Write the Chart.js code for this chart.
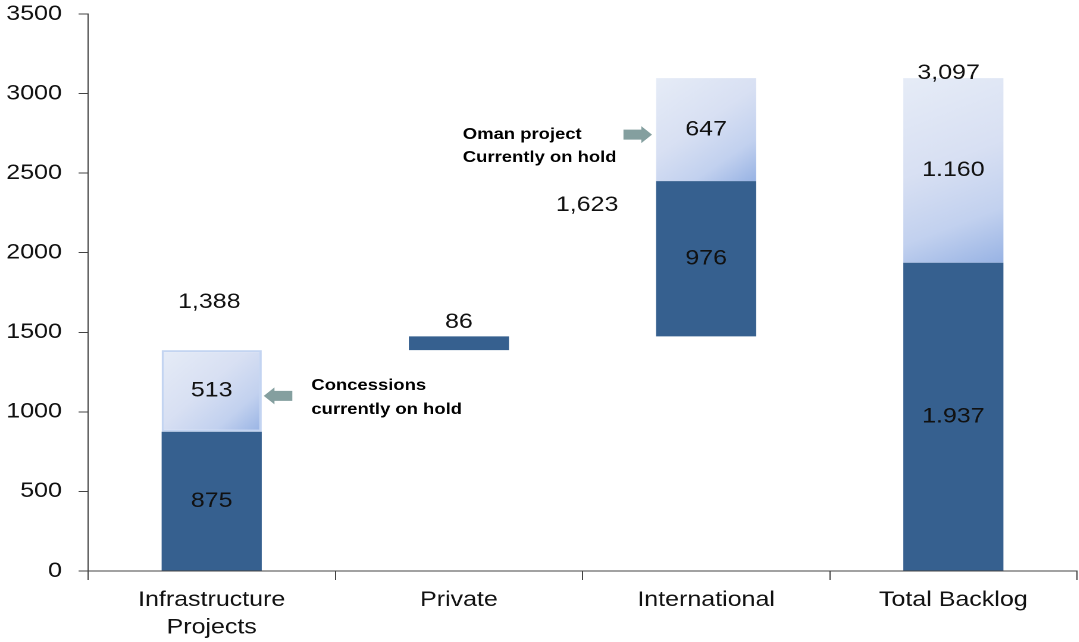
<!DOCTYPE html>
<html><head><meta charset="utf-8">
<script src="https://cdn.jsdelivr.net/npm/chart.js@4.4.1/dist/chart.umd.min.js"></script>
<style>
html,body{margin:0;padding:0;background:#fff;overflow:hidden;}
#wrap{width:907px;height:642px;transform:scaleX(1.19);transform-origin:0 0;}
</style></head><body>
<div id="wrap"><canvas id="c" width="907" height="642"></canvas></div>
<script>
// ---- data ----
const categories = [['Infrastructure', 'Projects'], 'Private', 'International', 'Total Backlog'];
const activeValues = [875, 86, 976, 1937];
const onHoldValues = [513, 0, 647, 1160];
const isTotal = [false, false, false, true];
const activeLabels = ['875', '', '976', '1.937'];
const onHoldLabels = ['513', '', '647', '1.160'];
const sumLabels = ['1,388', '86', '1,623', '3,097'];
const yTickValues = [0, 500, 1000, 1500, 2000, 2500, 3000, 3500];
const notes = [
  { category: 0, lines: ['Concessions', 'currently on hold'] },
  { category: 2, lines: ['Oman project', 'Currently on hold'] }
];

// ---- waterfall ranges built from the data ----
const darkRanges = [], lightRanges = [];
let running = 0;
categories.forEach((c, i) => {
  const base = isTotal[i] ? 0 : running;
  darkRanges.push([base, base + activeValues[i]]);
  lightRanges.push(onHoldValues[i] > 0 ? [base + activeValues[i], base + activeValues[i] + onHoldValues[i]] : null);
  if (!isTotal[i]) running += activeValues[i] + onHoldValues[i];
});

// ---- style ----
const BAR_PCT = 0.405;
const DARK = '#36608f';
const FONT = '"Liberation Sans", Arial, sans-serif';
const onHoldBorderWidths = [2, 0, 0, 0];
// placement of the sum labels relative to the top of each stack (logical px)
const sumPlacement = [
  { dx: -2, dy: -48 },
  { dx: 0, dy: -14 },
  { dx: -100, dy: 127 },
  { dx: -4, dy: -5 }
];
const noteStyle = [
  { side: 'right', dy: 5, textDx: 16, lineDy: [-10, 14] },
  { side: 'left', dy: 5, textDx: -159, lineDy: [0, 23] }
];

function lightFill(ctx) {
  const chart = ctx.chart;
  const xs = chart.scales.x, ys = chart.scales.y;
  const raw = ctx.raw;
  if (!xs || !ys || !raw || !chart.chartArea) return '#d6dff2';
  const cx = xs.getPixelForValue(ctx.dataIndex);
  const half = (xs.getPixelForValue(1) - xs.getPixelForValue(0)) * BAR_PCT / 2;
  const top = ys.getPixelForValue(raw[1]), bot = ys.getPixelForValue(raw[0]);
  const g = chart.ctx.createLinearGradient(cx - half, top, cx + half, bot);
  g.addColorStop(0, '#e6ecf7');
  g.addColorStop(0.45, '#d8e0f3');
  g.addColorStop(0.75, '#c2d1ef');
  g.addColorStop(1, '#98b3e4');
  return g;
}

const labelPlugin = {
  id: 'labels',
  afterDatasetsDraw(chart) {
    const c = chart.ctx;
    const dark = chart.getDatasetMeta(0).data;
    const light = chart.getDatasetMeta(1).data;
    c.save();
    c.fillStyle = '#111';
    c.textAlign = 'center';
    c.textBaseline = 'middle';
    c.font = '21px ' + FONT;
    dark.forEach((el, i) => {
      if (activeLabels[i]) c.fillText(activeLabels[i], el.x, (el.y + el.base) / 2);
    });
    light.forEach((el, i) => {
      if (onHoldValues[i] > 0 && onHoldLabels[i]) c.fillText(onHoldLabels[i], el.x, (el.y + el.base) / 2);
    });
    sumLabels.forEach((t, i) => {
      const topEl = onHoldValues[i] > 0 ? light[i] : dark[i];
      const p = sumPlacement[i];
      c.fillText(t, topEl.x + p.dx, topEl.y + p.dy);
    });
    // notes with arrows
    notes.forEach((n, k) => {
      const s = noteStyle[k];
      const el = light[n.category];
      const half = el.width / 2;
      const y = (el.y + el.base) / 2 + s.dy;
      const L = 24, head = 9, sh = 5, hh = 8.5;
      let tip, tail;
      c.fillStyle = '#849f9f';
      c.beginPath();
      if (s.side === 'right') {
        tip = el.x + half + 1.7; tail = tip + L;
        c.moveTo(tip, y);
        c.lineTo(tip + head, y - hh);
        c.lineTo(tip + head, y - sh);
        c.lineTo(tail, y - sh);
        c.lineTo(tail, y + sh);
        c.lineTo(tip + head, y + sh);
        c.lineTo(tip + head, y + hh);
      } else {
        tip = el.x - half - 3.4; tail = tip - L;
        c.moveTo(tip, y);
        c.lineTo(tip - head, y - hh);
        c.lineTo(tip - head, y - sh);
        c.lineTo(tail, y - sh);
        c.lineTo(tail, y + sh);
        c.lineTo(tip - head, y + sh);
        c.lineTo(tip - head, y + hh);
      }
      c.closePath();
      c.fill();
      c.fillStyle = '#000';
      c.textAlign = 'left';
      c.font = 'bold 15.5px ' + FONT;
      const tx = s.side === 'right' ? tail + s.textDx : tip + s.textDx;
      n.lines.forEach((line, j) => c.fillText(line, tx, y + s.lineDy[j]));
    });
    c.restore();
  }
};

new Chart(document.getElementById('c'), {
  type: 'bar',
  data: {
    labels: categories,
    datasets: [
      { label: 'Active', data: darkRanges, backgroundColor: DARK, borderWidth: 0 },
      { label: 'On hold', data: lightRanges, backgroundColor: lightFill,
        borderColor: '#c3d4f1', borderWidth: onHoldBorderWidths, borderSkipped: false }
    ]
  },
  options: {
    responsive: false,
    devicePixelRatio: 2,
    animation: false,
    layout: { padding: { top: 14, right: 2, left: 0, bottom: 0 } },
    datasets: { bar: { grouped: false, barPercentage: BAR_PCT, categoryPercentage: 1 } },
    plugins: { legend: { display: false }, tooltip: { enabled: false } },
    scales: {
      x: {
        grid: { offset: true, drawOnChartArea: false, drawTicks: true, tickLength: 9, color: '#444' },
        border: { display: true, color: '#444', width: 1 },
        ticks: { color: '#111', padding: 6, font: { family: FONT, size: 21, lineHeight: 1.33 }, maxRotation: 0, autoSkip: false },
        afterFit: s => { s.height = 71; s.paddingLeft = 0; s.paddingRight = 0; }
      },
      y: {
        min: 0, max: 3500,
        afterBuildTicks: s => { s.ticks = yTickValues.map(v => ({ value: v })); },
        grid: { drawOnChartArea: false, drawTicks: true, tickLength: 8, color: '#444' },
        border: { display: true, color: '#444', width: 1 },
        ticks: { color: '#111', padding: 14, font: { family: FONT, size: 21 }, callback: v => String(v) },
        afterFit: s => { s.width = 74; s.paddingTop = 0; s.paddingBottom = 0; }
      }
    }
  },
  plugins: [labelPlugin]
});
</script>
</body></html>
